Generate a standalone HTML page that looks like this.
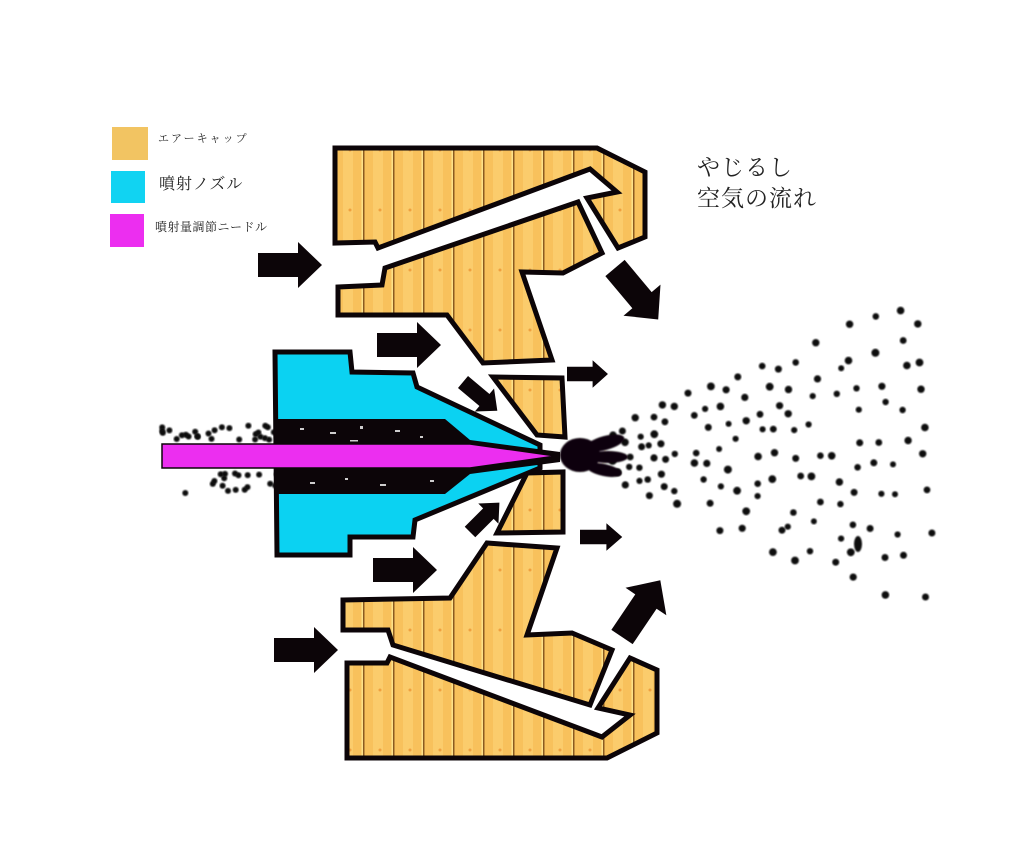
<!DOCTYPE html>
<html><head><meta charset="utf-8"><style>
html,body{margin:0;padding:0;background:#fff;width:1024px;height:847px;overflow:hidden}
svg{display:block}
.t{font-family:"Liberation Serif","Noto Serif CJK SC","Noto Sans CJK JP",serif;fill:#222}
</style></head><body>
<svg id="s" width="1024" height="847" viewBox="0 0 1024 847" xmlns="http://www.w3.org/2000/svg">
<defs>
<pattern id="wood" patternUnits="userSpaceOnUse" width="30" height="60" x="335">
<rect width="30" height="60" fill="#f8c15c"/>
<rect x="8" width="10" height="60" fill="#fbcc6c"/>
<rect x="28" width="1.5" height="60" fill="#8a5a20"/>
<rect x="26.5" width="1.5" height="60" fill="#fde28a"/>
<circle cx="15" cy="30" r="1.5" fill="#f0a040"/>
</pattern>
<filter id="bl"><feGaussianBlur stdDeviation="0.8"/></filter>
<path id="ar" d="M0,-12 L40,-12 L40,-23 L64,0 L40,23 L40,12 L0,12 Z" fill="#0c0508"/>
</defs>

<text class="t" x="158" y="142" font-size="11" letter-spacing="2">エアーキャップ</text>
<rect x="112" y="127" width="36" height="33" fill="#f2c462"/>
<rect x="111" y="171" width="34" height="32" fill="#11d3f2"/>
<rect x="110" y="214" width="34" height="33" fill="#ec2ef0"/>
<text class="t" x="159" y="189" font-size="16" letter-spacing="1">噴射ノズル</text>
<text class="t" x="155" y="231" font-size="12" letter-spacing="0.5">噴射量調節ニードル</text>
<text class="t" x="697" y="175" font-size="23" letter-spacing="1">やじるし</text>
<text class="t" x="697" y="206" font-size="23" letter-spacing="1">空気の流れ</text>

<g id="dots"></g>

<g fill="url(#wood)" stroke="#0c0508" stroke-width="5" stroke-linejoin="miter">
<polygon points="335,148 597,148 645,172 645,237 618,248 587,198 617,192 590,169 378,248 375,242 335,243"/>
<polygon points="338,287 382,285 385,268 578,202 602,253 563,273 522,272 552,360 483,363 447,315 338,315"/>
<polygon points="493,377 562,378 565,437 537,435"/>
<polygon points="497,533 527,473 563,472 563,532"/>
<polygon points="343,600 450,598 487,543 557,548 527,635 572,633 612,650 590,705 393,645 388,630 343,630"/>
<polygon points="347,663 387,663 390,657 602,737 630,715 598,708 630,658 657,670 657,733 607,758 347,758"/>
</g>

<polygon points="275,352 350,352 352,372 413,373 417,387 540,445 540,468 415,520 413,537 350,537 350,555 277,555" fill="#0bd2f2" stroke="#0c0508" stroke-width="5" stroke-linejoin="miter"/>
<polygon points="275,419 445,419 470,440 560,452 560,462 470,474 445,494 275,494" fill="#0c0508"/>
<g fill="#fff" opacity="0.8">
<rect x="300" y="428" width="4" height="2"/><rect x="330" y="432" width="6" height="2"/><rect x="360" y="426" width="3" height="3"/><rect x="395" y="430" width="5" height="2"/><rect x="420" y="436" width="3" height="2"/><rect x="350" y="440" width="8" height="1.5"/>
<rect x="310" y="482" width="5" height="2"/><rect x="345" y="478" width="3" height="2"/><rect x="380" y="484" width="6" height="2"/><rect x="430" y="480" width="4" height="2"/>
</g>
<polygon points="162,444 470,444 556,456 470,468 162,468" fill="#ec2ef0" stroke="#0c0508" stroke-width="1.5"/>

<g fill="#0c0508" filter="url(#bl)">
<ellipse cx="580" cy="455" rx="20" ry="17"/>
<ellipse cx="605" cy="443" rx="20" ry="7" transform="rotate(-15 605 443)"/>
<ellipse cx="608" cy="457" rx="20" ry="6"/>
<ellipse cx="604" cy="470" rx="18" ry="6" transform="rotate(12 604 470)"/>
</g>

<use href="#ar" transform="translate(258,265)"/>
<use href="#ar" transform="translate(377,345)"/>
<use href="#ar" transform="translate(615,268) rotate(50) scale(1.05)"/>
<use href="#ar" transform="translate(567,374) scale(0.64,0.6)"/>
<use href="#ar" transform="translate(463,382) rotate(40) scale(0.7,0.65)"/>
<use href="#ar" transform="translate(470,532) rotate(-45) scale(0.65,0.62)"/>
<use href="#ar" transform="translate(580,537) scale(0.66,0.6)"/>
<use href="#ar" transform="translate(373,570)"/>
<use href="#ar" transform="translate(622,637) rotate(-56) scale(1.07)"/>
<use href="#ar" transform="translate(274,650)"/>
</svg>
<script>
(function(){
var s=4242;function r(){s=(s*1103515245+12345)%2147483648;return s/2147483648;}
var g=document.getElementById('dots'),h='';
function dot(x,y,rad){h+='<circle cx="'+x.toFixed(1)+'" cy="'+y.toFixed(1)+'" r="'+rad.toFixed(1)+'" fill="#111" filter="url(#bl)"/>';}
var x=615;
while(x<945){
 var t=(x-600)/340;
 var half=20+t*150;
 var dx=11+t*15;
 var dy=12+t*22;
 var off=r()*dy;
 for(var y=455-half+off*0.5;y<=455+half;y+=dy){
  if(r()<0.1) continue;
  dot(x+(r()-0.5)*dx*0.7,y+(r()-0.5)*dy*0.5,3+r()*1);
 }
 x+=dx;
}
for(var j=0;j<45;j++){
 var x2=162+r()*115;var y2=(r()<0.5?424+r()*16:472+r()*22);
 dot(x2,y2,3);
}
h+='<ellipse cx="858" cy="544" rx="4" ry="8" fill="#111" filter="url(#bl)"/>';
g.innerHTML=h;
})();
</script>
</body></html>
